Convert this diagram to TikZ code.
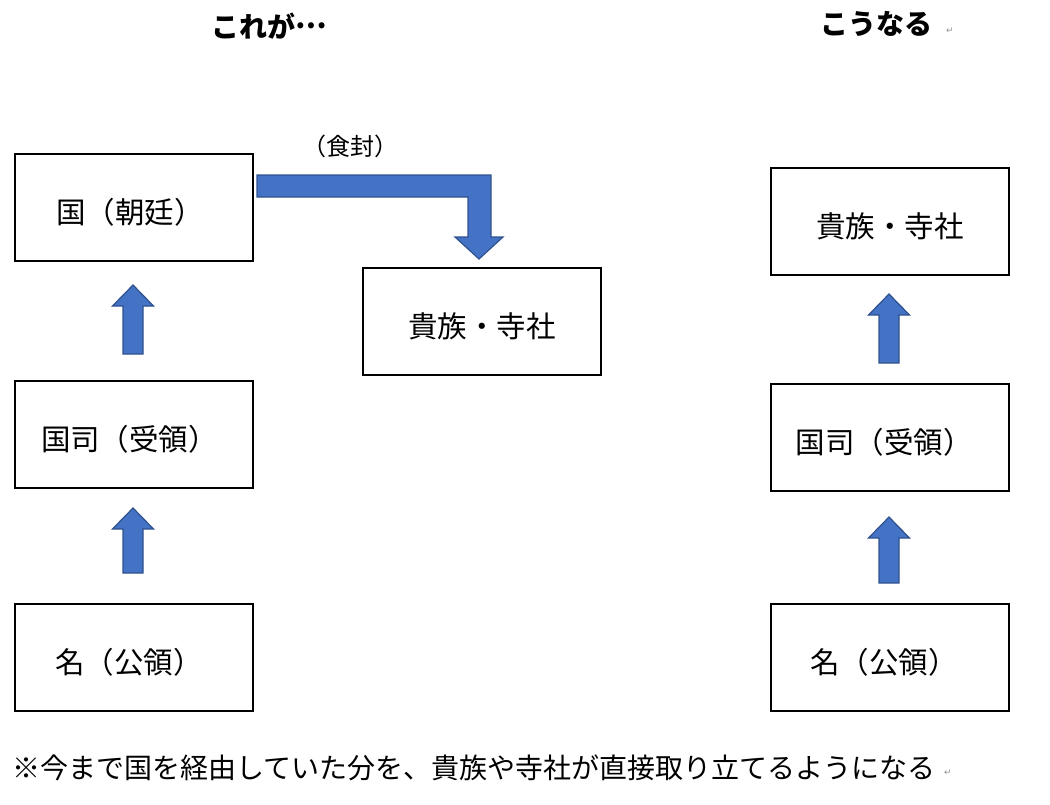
\documentclass[tikz,border=0pt]{standalone}
\usepackage{fontspec}
\setmainfont{Noto Sans CJK JP}
\newfontfamily\symfont{DejaVu Sans}
\definecolor{arrowfill}{HTML}{4472C4}
\definecolor{arrowline}{HTML}{2F528F}
\definecolor{markgray}{HTML}{909090}
\newcommand\blockup[3]{%
  \draw[blockarrow] (#1-10,#3) -- (#1-10,#2+21) -- (#1-20.5,#2+21) -- (#1,#2)
    -- (#1+20.5,#2+21) -- (#1+10,#2+21) -- (#1+10,#3) -- cycle;}
\begin{document}
\begin{tikzpicture}[x=1pt,y=-1pt,
  box/.style={draw=black, line width=2pt, minimum width=238pt, minimum height=107pt,
    inner sep=0pt, text height=33pt, text depth=1.6pt, font=\fontsize{29.5}{32}\selectfont},
  blockarrow/.style={fill=arrowfill, draw=arrowline, line width=1.2pt, line join=miter},
  titletext/.style={font=\fontsize{28}{32}\selectfont\bfseries, inner sep=0pt},
  paramark/.style={font=\symfont\fontsize{9}{10}\selectfont, text=markgray, inner sep=0pt}]
\useasboundingbox (0,0) rectangle (1050,804);
\fill[white] (0,0) rectangle (1050,804);

% titles
\node[titletext] (t1) at (269,26) {これが\raisebox{0.3em}{…}};
\node[titletext] (t2) at (876,24) {こうなる};
\node[paramark] (m1) at (950,31) {↵};

% left column
\node[box] (kuni) at (134,207.5) {国（朝廷）\hspace*{8pt}};
\node[box] (kokushi) at (134,434.5) {国司（受領）\hspace*{9pt}};
\node[box] (myo) at (134,657.5) {名（公領）\hspace*{10pt}};
\node[box] (kizoku) at (482,321.5) {貴族・寺社};

% right column
\node[box] (kizokuR) at (890,221.5) {貴族・寺社};
\node[box] (kokushiR) at (890,437.5) {国司（受領）\hspace*{12pt}};
\node[box] (myoR) at (890,657.5) {名（公領）\hspace*{12pt}};

% up arrows
\blockup{133}{285}{354}
\blockup{133}{508}{573}
\blockup{889}{294}{363}
\blockup{889}{517}{583}

% bent arrow
\draw[blockarrow] (257,175) -- (491,175) -- (491,237) -- (503,237) -- (479,259)
  -- (455,237) -- (468,237) -- (468,197) -- (257,197) -- cycle;
\node[font=\fontsize{24}{28}\selectfont, inner sep=0pt] (jikifu) at (350,146) {（食封）};

% note
\node[anchor=west, font=\fontsize{28}{32}\selectfont, inner sep=0pt] (note) at (12,768)
  {※今まで国を経由していた分を、貴族や寺社が直接取り立てるようになる};
\node[paramark] (m2) at (948,773) {↵};
\end{tikzpicture}
\end{document}
